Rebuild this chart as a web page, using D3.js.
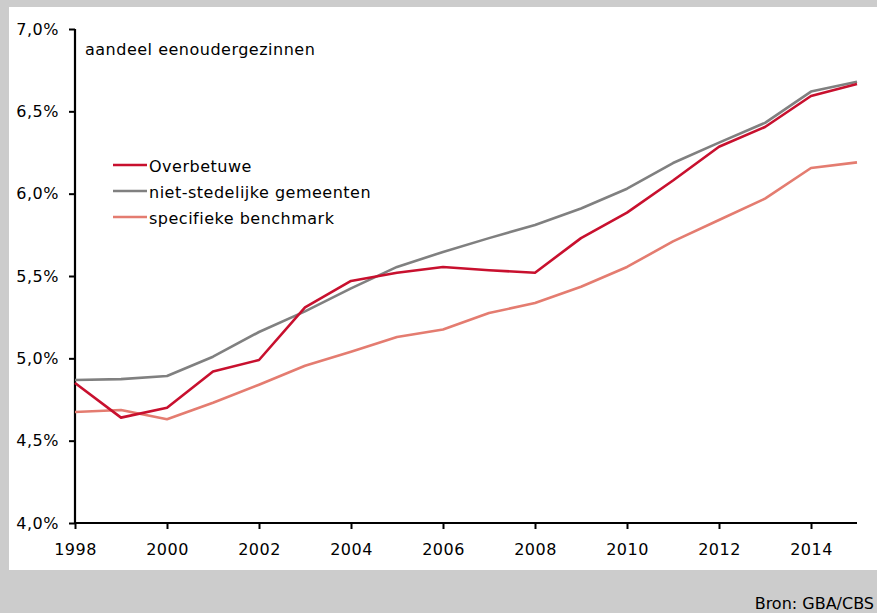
<!DOCTYPE html>
<html><head><meta charset="utf-8">
<script src="https://cdn.jsdelivr.net/npm/d3@7"></script>
<style>
html,body{margin:0;padding:0;background:#cccccc;}
svg{display:block;font-family:"DejaVu Sans",sans-serif;}
</style></head>
<body>
<svg id="c" width="877" height="613"></svg>
<script>
const years = [1998,1999,2000,2001,2002,2003,2004,2005,2006,2007,2008,2009,2010,2011,2012,2013,2014,2015];
const overbetuwe = [4.85,4.64,4.70,4.92,4.99,5.31,5.47,5.52,5.555,5.535,5.52,5.73,5.885,6.08,6.285,6.405,6.593,6.666];
const nietStedelijk = [4.868,4.874,4.893,5.01,5.16,5.285,5.425,5.555,5.646,5.73,5.81,5.91,6.03,6.186,6.31,6.43,6.62,6.68];
const benchmark = [4.674,4.686,4.63,4.73,4.84,4.955,5.04,5.13,5.175,5.275,5.336,5.435,5.555,5.71,5.84,5.97,6.156,6.19];
const yTicks = [4.0,4.5,5.0,5.5,6.0,6.5,7.0];
const xTicks = [1998,2000,2002,2004,2006,2008,2010,2012,2014];
const seriesNames = ["Overbetuwe","niet-stedelijke gemeenten","specifieke benchmark"];
const seriesColors = ["#c8102e","#808080","#e47c70"];
const yLabel = "aandeel eenoudergezinnen";
const source = "Bron: GBA/CBS";

const FONT = '"DejaVu Sans",sans-serif';
const styleText = s => s.style("font-size","16px").style("font-family",FONT).style("letter-spacing","0.5px").attr("fill","#000");
const svg = d3.select("#c");
svg.append("rect").attr("x",0).attr("y",0).attr("width",877).attr("height",613).attr("fill","#cccccc");
svg.append("rect").attr("x",9).attr("y",7).attr("width",868).attr("height",563).attr("fill","#ffffff");

const x = d3.scaleLinear().domain([1998,2015]).range([75,857]);
const y = d3.scaleLinear().domain([4,7]).range([523,29]);

const fmt = d => d.toFixed(1).replace(".",",") + "%";

const gy = svg.append("g").attr("transform","translate(75,0)")
  .call(d3.axisLeft(y).tickValues(yTicks).tickFormat(fmt).tickSize(6).tickPadding(10));
const gx = svg.append("g").attr("transform","translate(0,523)")
  .call(d3.axisBottom(x).tickValues(xTicks).tickFormat(d3.format("d")).tickSize(6).tickPadding(15));
[gx,gy].forEach(g=>{
  g.select(".domain").attr("stroke","#000").attr("stroke-width",2.2);
  g.selectAll(".tick line").attr("stroke","#000").attr("stroke-width",2);
  styleText(g.selectAll("text"));
});
gy.select(".domain").attr("d","M0,523V29");
gx.select(".domain").attr("d","M75,0H857");

const line = d3.line().x((d,i)=>x(years[i])).y(d=>y(d));
const data = [benchmark, nietStedelijk, overbetuwe];
const cols = [seriesColors[2], seriesColors[1], seriesColors[0]];
data.forEach((s,k)=>{
  svg.append("path").datum(s).attr("d",line).attr("fill","none")
    .attr("stroke",cols[k]).attr("stroke-width",2.6).attr("stroke-linejoin","round");
});

styleText(svg.append("text").attr("x",85).attr("y",55).text(yLabel));

const lg = svg.append("g");
seriesNames.forEach((n,i)=>{
  const yy = 165 + i*26;
  lg.append("line").attr("x1",113).attr("x2",147).attr("y1",yy).attr("y2",yy)
    .attr("stroke",seriesColors[i]).attr("stroke-width",2.6);
  styleText(lg.append("text").attr("x",149).attr("y",yy+7).text(n));
});

styleText(svg.append("text").attr("x",874).attr("y",609).attr("text-anchor","end").text(source))
  .style("letter-spacing","0px");
</script>
</body></html>
